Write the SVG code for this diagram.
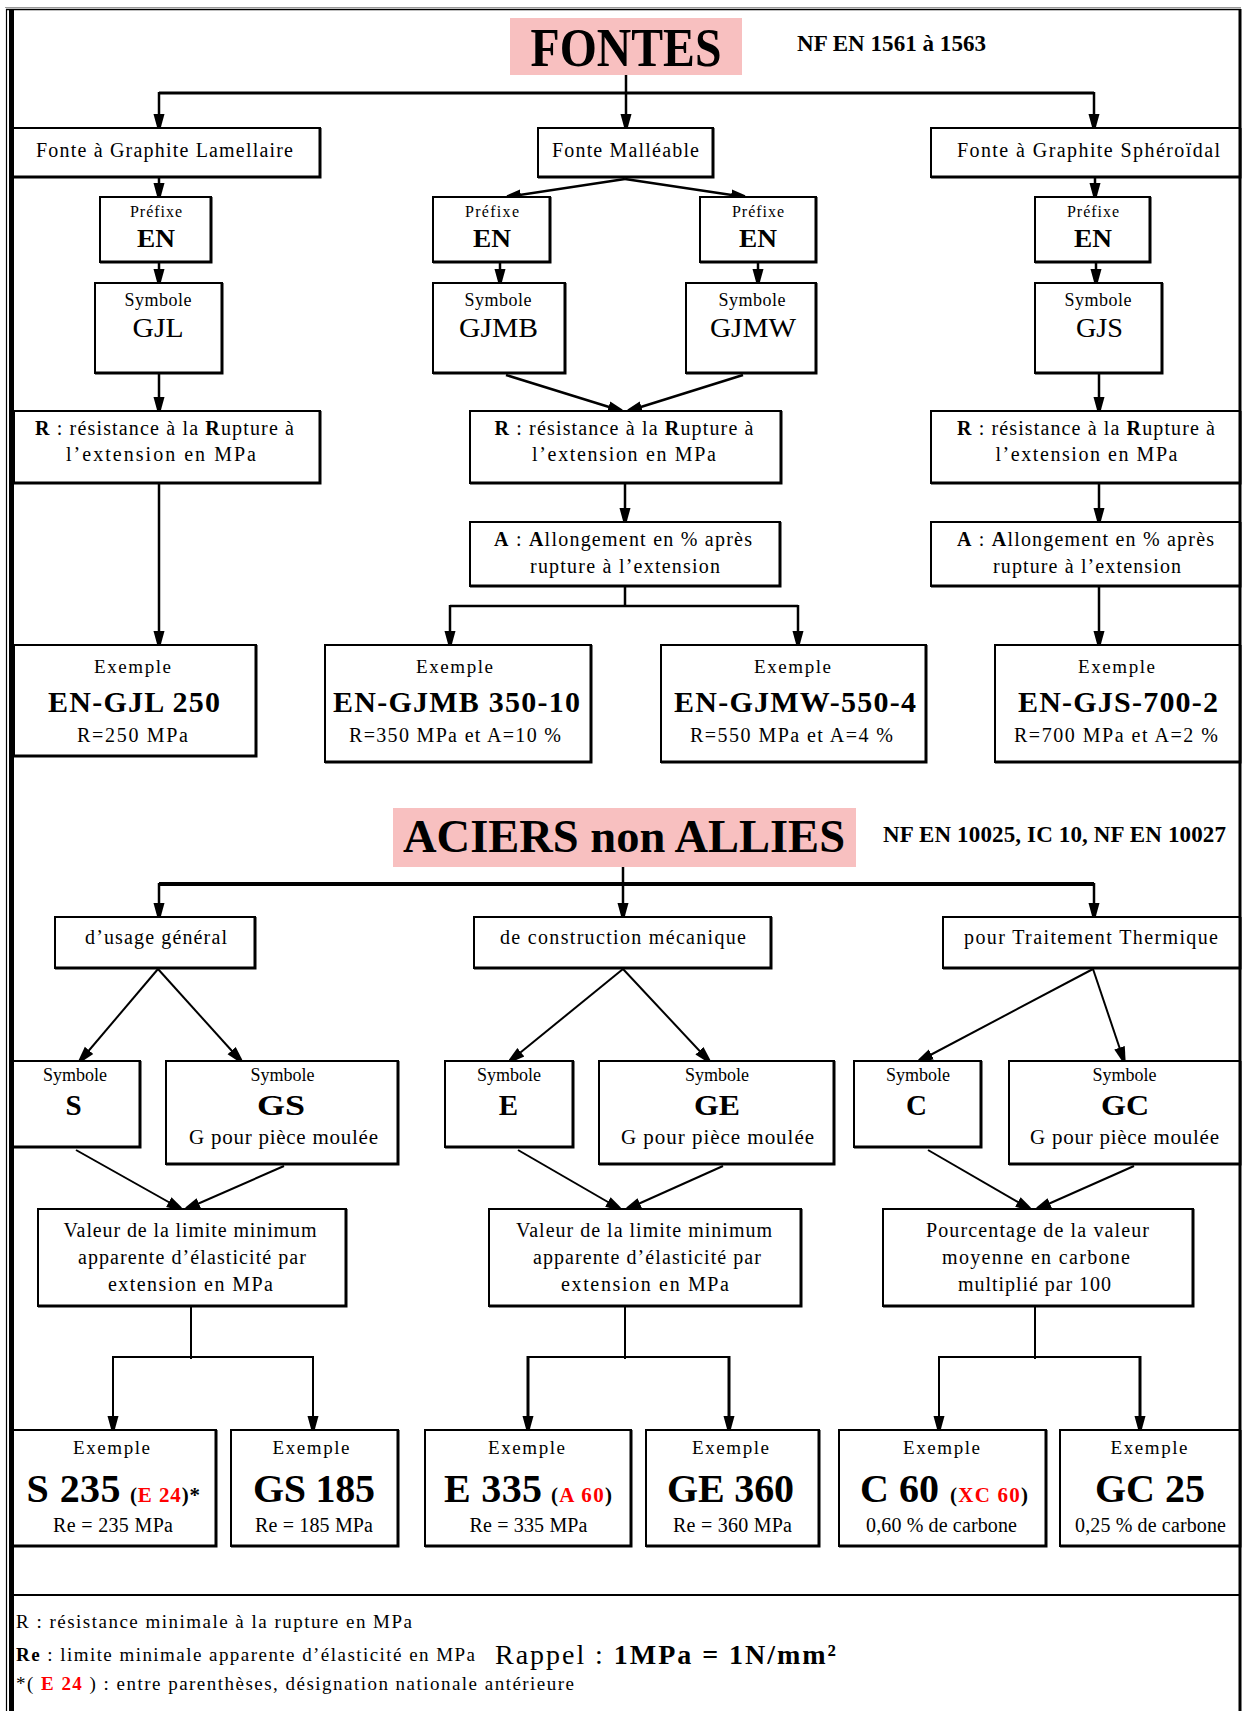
<svg xmlns="http://www.w3.org/2000/svg" width="1242" height="1711" viewBox="0 0 1242 1711">
<defs>
  <marker id="ah" markerUnits="userSpaceOnUse" markerWidth="16" markerHeight="14" viewBox="0 -7 16 14" refX="14" refY="0" orient="auto">
    <path d="M0,-5.5 L14,-1.7 L14,1.7 L0,5.5 Z" fill="#000"/>
  </marker>
  <style>
    text { font-family: "Liberation Serif", "Times New Roman", serif; fill: #000; }
    .m { text-anchor: middle; }
    .b { font-weight: bold; }
    .red { fill: #ff0000; }
    .box { fill: #fff; stroke: #000; stroke-width: 2; }
    .sh { fill: none; stroke: #000; stroke-width: 3; }
    .ttl { fill: #f8c0c0; }
    .c { fill: none; stroke: #000; stroke-width: 2.5; }
    .ca { fill: none; stroke: #000; stroke-width: 2.5; marker-end: url(#ah); }
    .d { fill: none; stroke: #000; stroke-width: 2; marker-end: url(#ah); }
    .f16 { font-size: 16px; }
    .f18 { font-size: 18px; }
    .f19 { font-size: 19px; }
    .f20 { font-size: 20px; }
    .f21 { font-size: 21px; }
    .f25 { font-size: 25px; }
    .f27 { font-size: 27px; }
    .f29 { font-size: 29px; }
    .f30 { font-size: 30px; }
    .f40 { font-size: 40px; }
  </style>
</defs>

<!-- page frame -->
<g id="frame">
  <rect x="0" y="0" width="1242" height="1711" fill="#fff"/>
  <line x1="5" y1="7.5" x2="1241" y2="7.5" stroke="#999" stroke-width="1"/>
  <line x1="6" y1="9.5" x2="1241" y2="9.5" stroke="#000" stroke-width="1.5"/>
  <line x1="6.5" y1="9" x2="6.5" y2="1711" stroke="#000" stroke-width="1.2"/>
  <rect x="9" y="9" width="5" height="1702" fill="#000"/>
  <line x1="1240" y1="9" x2="1240" y2="1711" stroke="#000" stroke-width="3"/>
  <line x1="9" y1="1595" x2="1241" y2="1595" stroke="#000" stroke-width="2"/>
</g>

<!-- connectors -->
<g id="connectors">
  <!-- cast iron tree -->
  <path class="c" style="stroke-width:3" d="M159,93 H1094"/>
  <path class="ca" d="M626,75 V128"/>
  <path class="ca" d="M159,92 V128"/>
  <path class="ca" d="M1094,92 V128"/>
  <path class="ca" d="M625,179 L507,197"/>
  <path class="ca" d="M625,179 L745,197"/>
  <path class="ca" d="M159,177 V197"/>
  <path class="ca" d="M1095,177 V197"/>
  <path class="ca" d="M159,262 V283"/>
  <path class="ca" d="M500,262 V283"/>
  <path class="ca" d="M758,262 V283"/>
  <path class="ca" d="M1096,262 V283"/>
  <path class="ca" d="M159,373 V411"/>
  <path class="ca" d="M506,375 L622,411"/>
  <path class="ca" d="M743,375 L628,411"/>
  <path class="ca" d="M1099,373 V411"/>
  <path class="ca" d="M159,483 V645"/>
  <path class="ca" d="M625,483 V522"/>
  <path class="ca" d="M1099,483 V522"/>
  <path class="c" d="M625,586 V606 M450,606 H798"/>
  <path class="ca" d="M450,605 V645"/>
  <path class="ca" d="M798,605 V645"/>
  <path class="ca" d="M1099,586 V645"/>

  <!-- steel tree -->
  <path class="c" style="stroke-width:4" d="M159,884 H1094"/>
  <path class="ca" d="M623,867 V917"/>
  <path class="ca" d="M159,883 V917"/>
  <path class="ca" d="M1094,883 V917"/>
  <path class="d" d="M158,969 L80,1061"/>
  <path class="d" d="M158,969 L241,1061"/>
  <path class="d" d="M623,969 L510,1061"/>
  <path class="d" d="M623,969 L709,1061"/>
  <path class="d" d="M1093,969 L919,1061"/>
  <path class="d" d="M1093,969 L1124,1061"/>
  <path class="d" d="M76,1150 L181,1209"/>
  <path class="d" d="M284,1166 L186,1209"/>
  <path class="d" d="M518,1150 L620,1209"/>
  <path class="d" d="M723,1166 L627,1209"/>
  <path class="d" d="M928,1150 L1030,1209"/>
  <path class="d" d="M1134,1166 L1037,1209"/>
  <path class="c" style="stroke-width:2" d="M191,1306 V1359 M113,1357 H313"/>
  <path class="d" d="M113,1356 V1430"/>
  <path class="d" d="M313,1356 V1430"/>
  <path class="c" style="stroke-width:2" d="M625,1306 V1359 M528,1357 H729"/>
  <path class="ca" style="stroke-width:3" d="M528,1356 V1430"/>
  <path class="ca" style="stroke-width:3" d="M729,1356 V1430"/>
  <path class="c" style="stroke-width:2" d="M1035,1306 V1359 M939,1357 H1140"/>
  <path class="d" d="M939,1356 V1430"/>
  <path class="ca" style="stroke-width:3" d="M1140,1356 V1430"/>
</g>

<!-- ===== FONTES ===== -->
<g id="fontes-title">
  <rect class="ttl" x="510" y="18" width="232" height="57"/>
  <text x="626" y="66" class="m b" font-size="54" textLength="191" lengthAdjust="spacingAndGlyphs">FONTES</text>
</g>
<g id="fontes-norme">
  <text x="797" y="51" class="b" font-size="23" textLength="189">NF EN 1561 à 1563</text>
</g>

<g id="fonte-lamellaire">
  <rect class="box" x="13" y="128" width="307" height="49"/><path class="sh" d="M320,128 V177 H13"/>
  <text x="164.5" y="157" class="m f20" textLength="257">Fonte à Graphite Lamellaire</text>
</g>
<g id="fonte-malleable">
  <rect class="box" x="538" y="128" width="175" height="49"/><path class="sh" d="M713,128 V177 H538"/>
  <text x="625.5" y="157" class="m f20" textLength="147">Fonte Malléable</text>
</g>
<g id="fonte-spheroidal">
  <rect class="box" x="931" y="128" width="309" height="49"/><path class="sh" d="M1240,128 V177 H931"/>
  <text x="1088.5" y="157" class="m f20" textLength="263">Fonte à Graphite Sphéroïdal</text>
</g>

<g id="prefixe-gjl">
  <rect class="box" x="100" y="197" width="111" height="65"/><path class="sh" d="M211,197 V262 H100"/>
  <text x="156" y="217" class="m f16" textLength="52">Préfixe</text>
  <text x="156" y="247" class="m b f25" textLength="38" lengthAdjust="spacingAndGlyphs">EN</text>
</g>
<g id="prefixe-gjmb">
  <rect class="box" x="433" y="197" width="117" height="65"/><path class="sh" d="M550,197 V262 H433"/>
  <text x="492" y="217" class="m f16" textLength="54">Préfixe</text>
  <text x="492" y="247" class="m b f25" textLength="38" lengthAdjust="spacingAndGlyphs">EN</text>
</g>
<g id="prefixe-gjmw">
  <rect class="box" x="700" y="197" width="116" height="65"/><path class="sh" d="M816,197 V262 H700"/>
  <text x="758" y="217" class="m f16" textLength="52">Préfixe</text>
  <text x="758" y="247" class="m b f25" textLength="38" lengthAdjust="spacingAndGlyphs">EN</text>
</g>
<g id="prefixe-gjs">
  <rect class="box" x="1035" y="197" width="115" height="65"/><path class="sh" d="M1150,197 V262 H1035"/>
  <text x="1093" y="217" class="m f16" textLength="52">Préfixe</text>
  <text x="1093" y="247" class="m b f25" textLength="38" lengthAdjust="spacingAndGlyphs">EN</text>
</g>

<g id="symbole-gjl">
  <rect class="box" x="95" y="283" width="127" height="90"/><path class="sh" d="M222,283 V373 H95"/>
  <text x="158" y="306" class="m f18" textLength="67">Symbole</text>
  <text x="158" y="337" class="m f27" textLength="51" lengthAdjust="spacingAndGlyphs">GJL</text>
</g>
<g id="symbole-gjmb">
  <rect class="box" x="433" y="283" width="132" height="90"/><path class="sh" d="M565,283 V373 H433"/>
  <text x="498" y="306" class="m f18" textLength="67">Symbole</text>
  <text x="498.5" y="337" class="m f27" textLength="79" lengthAdjust="spacingAndGlyphs">GJMB</text>
</g>
<g id="symbole-gjmw">
  <rect class="box" x="686" y="283" width="130" height="90"/><path class="sh" d="M816,283 V373 H686"/>
  <text x="752" y="306" class="m f18" textLength="67">Symbole</text>
  <text x="753" y="337" class="m f27" textLength="86" lengthAdjust="spacingAndGlyphs">GJMW</text>
</g>
<g id="symbole-gjs">
  <rect class="box" x="1035" y="283" width="127" height="90"/><path class="sh" d="M1162,283 V373 H1035"/>
  <text x="1098" y="306" class="m f18" textLength="67">Symbole</text>
  <text x="1099.5" y="337" class="m f27" textLength="47" lengthAdjust="spacingAndGlyphs">GJS</text>
</g>

<g id="rupture-gjl">
  <rect class="box" x="14" y="411" width="306" height="72"/><path class="sh" d="M320,411 V483 H14"/>
  <text x="164.5" y="435" class="m f20" textLength="259"><tspan class="b">R</tspan> : résistance à la <tspan class="b">R</tspan>upture à</text>
  <text x="161" y="461" class="m f20" textLength="190">l’extension en  MPa</text>
</g>
<g id="rupture-gjm">
  <rect class="box" x="470" y="411" width="311" height="72"/><path class="sh" d="M781,411 V483 H470"/>
  <text x="624" y="435" class="m f20" textLength="259"><tspan class="b">R</tspan> : résistance à la <tspan class="b">R</tspan>upture à</text>
  <text x="624" y="461" class="m f20" textLength="184">l’extension en  MPa</text>
</g>
<g id="rupture-gjs">
  <rect class="box" x="931" y="411" width="309" height="72"/><path class="sh" d="M1240,411 V483 H931"/>
  <text x="1086" y="435" class="m f20" textLength="258"><tspan class="b">R</tspan> : résistance à la <tspan class="b">R</tspan>upture à</text>
  <text x="1086.5" y="461" class="m f20" textLength="182">l’extension en MPa</text>
</g>

<g id="allongement-gjm">
  <rect class="box" x="470" y="522" width="310" height="64"/><path class="sh" d="M780,522 V586 H470"/>
  <text x="623" y="546" class="m f20" textLength="258"><tspan class="b">A</tspan> : <tspan class="b">A</tspan>llongement en % après</text>
  <text x="625" y="573" class="m f20" textLength="190">rupture à l’extension</text>
</g>
<g id="allongement-gjs">
  <rect class="box" x="931" y="522" width="309" height="64"/><path class="sh" d="M1240,522 V586 H931"/>
  <text x="1085.5" y="546" class="m f20" textLength="257"><tspan class="b">A</tspan> : <tspan class="b">A</tspan>llongement en % après</text>
  <text x="1087" y="573" class="m f20" textLength="188">rupture à l’extension</text>
</g>

<g id="exemple-gjl">
  <rect class="box" x="14" y="645" width="242" height="111"/><path class="sh" d="M256,645 V756 H14"/>
  <text x="132.5" y="673" class="m f19" textLength="77">Exemple</text>
  <text x="134" y="712" class="m b f30" textLength="172">EN-GJL 250</text>
  <text x="132.5" y="742" class="m f20" textLength="111">R=250 MPa</text>
</g>
<g id="exemple-gjmb">
  <rect class="box" x="325" y="645" width="266" height="117"/><path class="sh" d="M591,645 V762 H325"/>
  <text x="454.5" y="673" class="m f19" textLength="77">Exemple</text>
  <text x="456.5" y="712" class="m b f30" textLength="247">EN-GJMB 350-10</text>
  <text x="455" y="742" class="m f20" textLength="212">R=350 MPa et A=10 %</text>
</g>
<g id="exemple-gjmw">
  <rect class="box" x="661" y="645" width="265" height="117"/><path class="sh" d="M926,645 V762 H661"/>
  <text x="792.5" y="673" class="m f19" textLength="77">Exemple</text>
  <text x="795" y="712" class="m b f30" textLength="242">EN-GJMW-550-4</text>
  <text x="791.5" y="742" class="m f20" textLength="203">R=550 MPa et A=4 %</text>
</g>
<g id="exemple-gjs">
  <rect class="box" x="995" y="645" width="245" height="117"/><path class="sh" d="M1240,645 V762 H995"/>
  <text x="1116.5" y="673" class="m f19" textLength="77">Exemple</text>
  <text x="1118" y="712" class="m b f30" textLength="200">EN-GJS-700-2</text>
  <text x="1116" y="742" class="m f20" textLength="204">R=700 MPa et A=2 %</text>
</g>

<!-- ===== ACIERS ===== -->
<g id="aciers-title">
  <rect class="ttl" x="393" y="808" width="463" height="59"/>
  <text x="624" y="852" class="m b" font-size="46" textLength="442" lengthAdjust="spacingAndGlyphs">ACIERS non ALLIES</text>
</g>
<g id="aciers-norme">
  <text x="883" y="842" class="b" font-size="23" textLength="343">NF EN 10025, IC 10, NF EN 10027</text>
</g>

<g id="usage-general">
  <rect class="box" x="55" y="917" width="200" height="51"/><path class="sh" d="M255,917 V968 H55"/>
  <text x="156" y="944" class="m f20" textLength="142">d’usage général</text>
</g>
<g id="construction-mecanique">
  <rect class="box" x="474" y="917" width="297" height="51"/><path class="sh" d="M771,917 V968 H474"/>
  <text x="623" y="944" class="m f20" textLength="246">de construction mécanique</text>
</g>
<g id="traitement-thermique">
  <rect class="box" x="943" y="917" width="297" height="51"/><path class="sh" d="M1240,917 V968 H943"/>
  <text x="1091" y="944" class="m f20" textLength="254">pour Traitement Thermique</text>
</g>

<g id="symbole-s">
  <rect class="box" x="13" y="1061" width="127" height="86"/><path class="sh" d="M140,1061 V1147 H13"/>
  <text x="75" y="1081" class="m f18" textLength="64">Symbole</text>
  <text x="73.5" y="1115" class="m b f29">S</text>
</g>
<g id="symbole-gs">
  <rect class="box" x="166" y="1061" width="232" height="103"/><path class="sh" d="M398,1061 V1164 H166"/>
  <text x="282.5" y="1081" class="m f18" textLength="64">Symbole</text>
  <text x="281" y="1115" class="m b f29" textLength="48" lengthAdjust="spacingAndGlyphs">GS</text>
  <text x="283.5" y="1144" class="m f21" textLength="189">G pour pièce moulée</text>
</g>
<g id="symbole-e">
  <rect class="box" x="445" y="1061" width="128" height="86"/><path class="sh" d="M573,1061 V1147 H445"/>
  <text x="509" y="1081" class="m f18" textLength="64">Symbole</text>
  <text x="508.5" y="1115" class="m b f29">E</text>
</g>
<g id="symbole-ge">
  <rect class="box" x="599" y="1061" width="235" height="103"/><path class="sh" d="M834,1061 V1164 H599"/>
  <text x="717" y="1081" class="m f18" textLength="64">Symbole</text>
  <text x="717" y="1115" class="m b f29" textLength="46" lengthAdjust="spacingAndGlyphs">GE</text>
  <text x="717.5" y="1144" class="m f21" textLength="193">G pour pièce moulée</text>
</g>
<g id="symbole-c">
  <rect class="box" x="854" y="1061" width="127" height="86"/><path class="sh" d="M981,1061 V1147 H854"/>
  <text x="918" y="1081" class="m f18" textLength="64">Symbole</text>
  <text x="916.5" y="1115" class="m b f29">C</text>
</g>
<g id="symbole-gc">
  <rect class="box" x="1009" y="1061" width="231" height="103"/><path class="sh" d="M1240,1061 V1164 H1009"/>
  <text x="1124.5" y="1081" class="m f18" textLength="64">Symbole</text>
  <text x="1125" y="1115" class="m b f29" textLength="48" lengthAdjust="spacingAndGlyphs">GC</text>
  <text x="1124.5" y="1144" class="m f21" textLength="189">G pour pièce moulée</text>
</g>

<g id="valeur-usage">
  <rect class="box" x="38" y="1209" width="308" height="97"/><path class="sh" d="M346,1209 V1306 H38"/>
  <text x="190" y="1237" class="m f20" textLength="253">Valeur de la limite  minimum</text>
  <text x="192" y="1264" class="m f20" textLength="228">apparente d’élasticité par</text>
  <text x="190.5" y="1291" class="m f20" textLength="165">extension en  MPa</text>
</g>
<g id="valeur-construction">
  <rect class="box" x="489" y="1209" width="312" height="97"/><path class="sh" d="M801,1209 V1306 H489"/>
  <text x="644" y="1237" class="m f20" textLength="256">Valeur de la limite  minimum</text>
  <text x="647" y="1264" class="m f20" textLength="228">apparente d’élasticité par</text>
  <text x="645" y="1291" class="m f20" textLength="168">extension en  MPa</text>
</g>
<g id="pourcentage-carbone">
  <rect class="box" x="883" y="1209" width="310" height="97"/><path class="sh" d="M1193,1209 V1306 H883"/>
  <text x="1037.5" y="1237" class="m f20" textLength="223">Pourcentage de la valeur</text>
  <text x="1036" y="1264" class="m f20" textLength="188">moyenne en carbone</text>
  <text x="1034.5" y="1291" class="m f20" textLength="153">multiplié par 100</text>
</g>

<g id="exemple-s235">
  <rect class="box" x="13" y="1430" width="203" height="116"/><path class="sh" d="M216,1430 V1546 H13"/>
  <text x="111.5" y="1454" class="m f19" textLength="77">Exemple</text>
  <text x="26.5" y="1502" class="b f40" textLength="94">S 235</text>
  <text x="130" y="1502" class="b f21" textLength="70">(<tspan class="red">E 24</tspan>)*</text>
  <text x="113" y="1532" class="m f20" textLength="120">Re = 235 MPa</text>
</g>
<g id="exemple-gs185">
  <rect class="box" x="231" y="1430" width="167" height="116"/><path class="sh" d="M398,1430 V1546 H231"/>
  <text x="311" y="1454" class="m f19" textLength="77">Exemple</text>
  <text x="253" y="1502" class="b f40" textLength="122">GS 185</text>
  <text x="314" y="1532" class="m f20" textLength="118">Re = 185 MPa</text>
</g>
<g id="exemple-e335">
  <rect class="box" x="425" y="1430" width="206" height="116"/><path class="sh" d="M631,1430 V1546 H425"/>
  <text x="526.5" y="1454" class="m f19" textLength="77">Exemple</text>
  <text x="444" y="1502" class="b f40" textLength="98">E 335</text>
  <text x="551" y="1502" class="b f21" textLength="61">(<tspan class="red">A 60</tspan>)</text>
  <text x="528.5" y="1532" class="m f20" textLength="118">Re = 335 MPa</text>
</g>
<g id="exemple-ge360">
  <rect class="box" x="646" y="1430" width="173" height="116"/><path class="sh" d="M819,1430 V1546 H646"/>
  <text x="730.5" y="1454" class="m f19" textLength="77">Exemple</text>
  <text x="667" y="1502" class="b f40" textLength="127">GE 360</text>
  <text x="732.5" y="1532" class="m f20" textLength="119">Re = 360 MPa</text>
</g>
<g id="exemple-c60">
  <rect class="box" x="839" y="1430" width="207" height="116"/><path class="sh" d="M1046,1430 V1546 H839"/>
  <text x="941.5" y="1454" class="m f19" textLength="77">Exemple</text>
  <text x="860" y="1502" class="b f40" textLength="79">C 60</text>
  <text x="950" y="1502" class="b f21" textLength="78">(<tspan class="red">XC 60</tspan>)</text>
  <text x="941.5" y="1532" class="m f20" textLength="151">0,60 % de carbone</text>
</g>
<g id="exemple-gc25">
  <rect class="box" x="1060" y="1430" width="180" height="116"/><path class="sh" d="M1240,1430 V1546 H1060"/>
  <text x="1149" y="1454" class="m f19" textLength="77">Exemple</text>
  <text x="1095" y="1502" class="b f40" textLength="110">GC 25</text>
  <text x="1150.5" y="1532" class="m f20" textLength="151">0,25 % de carbone</text>
</g>

<!-- legend -->
<g id="legende">
  <text x="16" y="1628" class="f19" textLength="396">R : résistance minimale à la rupture en MPa</text>
  <text x="16" y="1661" class="f19" textLength="459"><tspan class="b">Re</tspan> : limite minimale apparente d’élasticité en MPa</text>
  <text x="495" y="1664" font-size="28" textLength="341">Rappel : <tspan class="b">1MPa = 1N/mm²</tspan></text>
  <text x="16" y="1690" class="f19" textLength="558">*( <tspan class="b red">E 24</tspan> ) : entre parenthèses, désignation nationale antérieure</text>
</g>
</svg>
